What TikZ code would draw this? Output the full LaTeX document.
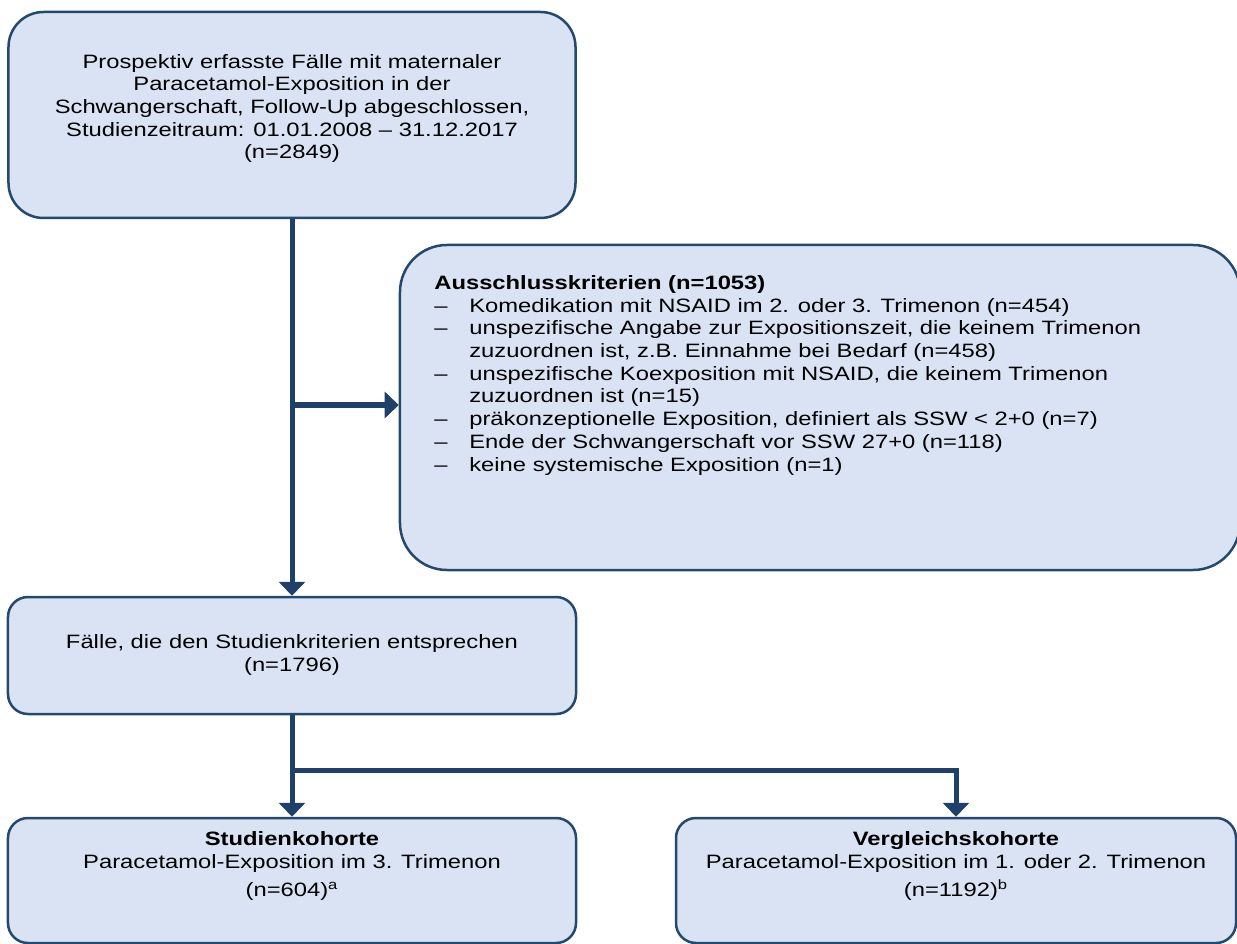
\documentclass[tikz,border=0pt]{standalone}
\usepackage{fontspec}
\setmainfont{Liberation Sans}[FakeStretch=1.23]
\usetikzlibrary{arrows.meta}
\definecolor{boxfill}{HTML}{DAE3F3}
\definecolor{boxline}{HTML}{24496F}
\definecolor{flowline}{HTML}{1F4068}

\begin{document}
\begin{tikzpicture}[x=0.2mm,y=-0.2mm,
  frame/.style={draw=boxline,fill=boxfill,line width=0.5mm,inner sep=0pt},
  txt/.style={inner sep=0pt,align=center,font=\fontsize{11pt}{12.9pt}\selectfont},
  flow/.style={draw=flowline,line width=1mm,-{Triangle[length=2.8mm,width=5.2mm]}}]
\useasboundingbox (0,0) rectangle (1237,944);
% boxes
\node[frame,rounded corners=7mm,minimum width=113.4mm,minimum height=41.2mm] (start) at (292,115) {};
\node[frame,rounded corners=9.4mm,minimum width=168mm,minimum height=65mm] (excl) at (820,407.5) {};
\node[frame,rounded corners=4mm,minimum width=113.6mm,minimum height=23.4mm] (cases) at (292,655.5) {};
\node[frame,rounded corners=4mm,minimum width=113.6mm,minimum height=25mm] (study) at (292,880.5) {};
\node[frame,rounded corners=4mm,minimum width=112mm,minimum height=25mm] (compare) at (956,880.5) {};
% texts (anchor base = last line)
\node[txt,anchor=base] (starttxt) at (292,159) {Prospektiv erfasste Fälle mit maternaler\\
  Paracetamol-Exposition in der\\
  Schwangerschaft, Follow-Up abgeschlossen,\\
  Studienzeitraum: 01.01.2008 – 31.12.2017\\
  (n=2849)};
\node[txt,align=left,anchor=base west] (excltxt) at (434,471) {\textbf{Ausschlusskriterien (n=1053)}\\
  \makebox[7mm][l]{–}Komedikation mit NSAID im 2. oder 3. Trimenon (n=454)\\
  \makebox[7mm][l]{–}unspezifische Angabe zur Expositionszeit, die keinem Trimenon\\
  \hspace*{7mm}zuzuordnen ist, z.B. Einnahme bei Bedarf (n=458)\\
  \makebox[7mm][l]{–}unspezifische Koexposition mit NSAID, die keinem Trimenon\\
  \hspace*{7mm}zuzuordnen ist (n=15)\\
  \makebox[7mm][l]{–}präkonzeptionelle Exposition, definiert als SSW < 2+0 (n=7)\\
  \makebox[7mm][l]{–}Ende der Schwangerschaft vor SSW 27+0 (n=118)\\
  \makebox[7mm][l]{–}keine systemische Exposition (n=1)};
\node[txt,anchor=base] (casestxt) at (292,671) {Fälle, die den Studienkriterien entsprechen\\
  (n=1796)};
\node[txt,anchor=base] (studytxt) at (292,896) {\textbf{Studienkohorte}\\
  Paracetamol-Exposition im 3. Trimenon\\[1mm]
  (n=604)\textsuperscript{a}};
\node[txt,anchor=base] (comparetxt) at (956,896) {\textbf{Vergleichskohorte}\\
  Paracetamol-Exposition im 1. oder 2. Trimenon\\[1mm]
  (n=1192)\textsuperscript{b}};
% connectors
\coordinate (split1) at (292,405);
\coordinate (split2) at (292,770);
\draw[flow] (start.south) -- (cases.north);
\draw[flow] (split1) -- (split1 -| excl.west);
\draw[flow] (cases.south) -- (study.north);
\draw[flow] (split2) -| (compare.north);
\end{tikzpicture}
\end{document}
